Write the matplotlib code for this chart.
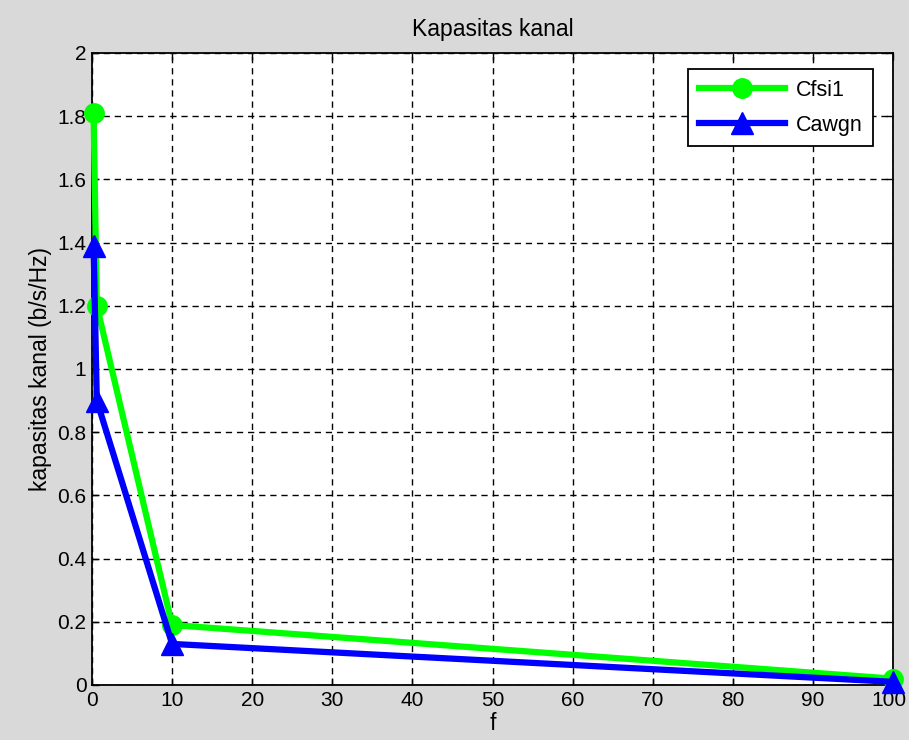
import matplotlib
matplotlib.use("Agg")
import matplotlib.pyplot as plt
import matplotlib.transforms as mtransforms

f_vals = [0.2, 0.6, 10, 100]
cfsi1 = [1.81, 1.20, 0.19, 0.02]
cawgn = [1.39, 0.90, 0.13, 0.01]
xticks = [0, 10, 20, 30, 40, 50, 60, 70, 80, 90, 100]
yticks = [0, 0.2, 0.4, 0.6, 0.8, 1, 1.2, 1.4, 1.6, 1.8, 2]
yticklabels = ["0", "0.2", "0.4", "0.6", "0.8", "1", "1.2", "1.4", "1.6", "1.8", "2"]

plt.rcParams['font.family'] = ['Liberation Sans', 'DejaVu Sans']
plt.rcParams['font.size'] = 15

fig = plt.figure(figsize=(9.09, 7.40), dpi=100, facecolor='#d9d9d9')
ax = fig.add_axes([92/909, 1-685/740, (893-92)/909, (685-53)/740])
ax.set_facecolor('white')

ax.plot(f_vals, cfsi1, color='#00ff00', lw=4.5, marker='o', ms=14, label='Cfsi1', clip_on=False, zorder=3)
ax.plot(f_vals, cawgn, color='#0000ff', lw=4.5, marker='^', ms=16, label='Cawgn', clip_on=False, zorder=4)

ax.set_xlim(0, 100)
ax.set_ylim(0, 2)
ax.set_xticks(xticks)
ax.set_yticks(yticks)
ax.set_yticklabels(yticklabels)
ax.grid(True, color='black', linestyle=(0, (4.5, 3.5)), linewidth=1.0)
ax.tick_params(direction='in', top=True, right=True, length=5, width=1, colors='black', pad=4, labelsize=15)
for s in ax.spines.values():
    s.set_linewidth(1.3)
    s.set_color('black')

# nudge the last x tick label so it stays inside the figure
last = ax.get_xticklabels()[-1]
last.set_transform(last.get_transform() + mtransforms.ScaledTranslation(-4/100, 0, fig.dpi_scale_trans))

ax.set_title('Kapasitas kanal', fontsize=16.5, pad=12)
ax.set_xlabel('f', fontsize=16.5, labelpad=2)
ax.set_ylabel('kapasitas kanal (b/s/Hz)', fontsize=16.5, labelpad=4)

leg = ax.legend(loc='upper right', bbox_to_anchor=(0.975, 0.975), fancybox=False, framealpha=1,
                edgecolor='black', handlelength=4.0, handletextpad=0.5, borderpad=0.5,
                labelspacing=0.65, borderaxespad=0, fontsize=15.5)
leg.get_frame().set_linewidth(1.3)

fig.savefig('out.png', dpi=100, facecolor=fig.get_facecolor())
